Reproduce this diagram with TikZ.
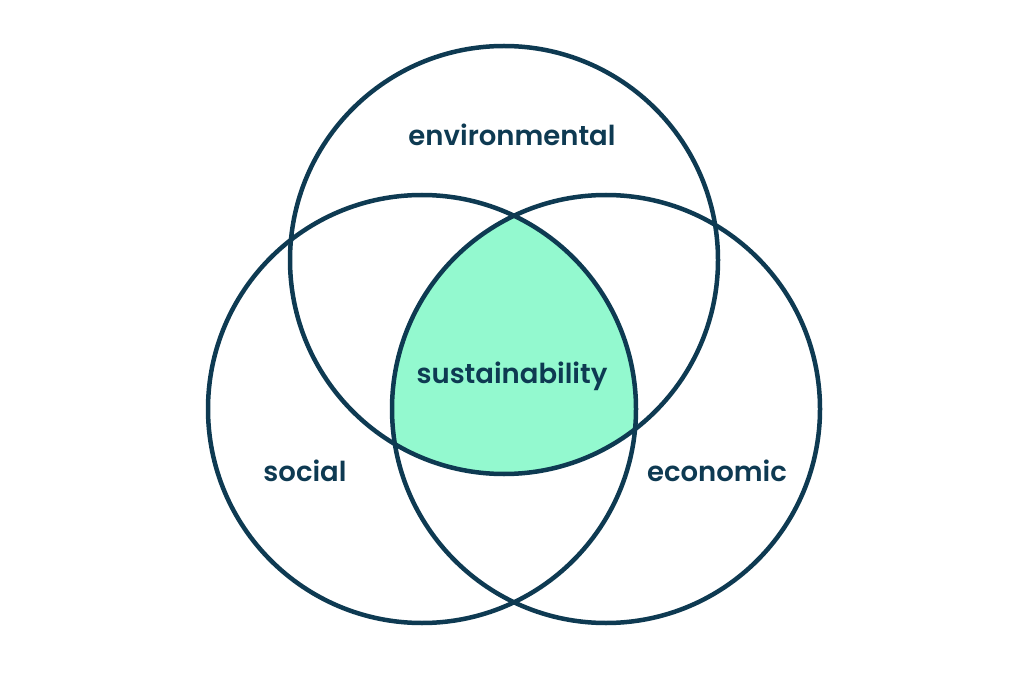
\documentclass[tikz,border=0pt]{standalone}
\usepackage{fontspec}
\setmainfont{Poppins}
\newfontfamily\semibold{Poppins SemiBold}
\usetikzlibrary{positioning}

\definecolor{navy}{HTML}{0E3A52}
\definecolor{mint}{HTML}{93F9CF}

\begin{document}
\begin{tikzpicture}[
    x = 1pt, y = -1pt, % pixel like units
    ring/.style = {draw = navy, line width = 4.5pt},
    lbl/.style = {text = navy, font = \semibold\fontsize{27.5}{30}\selectfont}
    ]

    \useasboundingbox (0,0) rectangle (1024,684);

    % centre region
    \begin{scope}
      \clip (504,260) circle (214);
      \clip (422,409) circle (214);
      \fill[mint] (606,409) circle (214);
    \end{scope}

    \draw[ring] (504,260) circle (214);
    \draw[ring] (422,409) circle (214);
    \draw[ring] (606,409) circle (214);

    \node[lbl] (env) at (512,135) {environmental};
    \node[lbl] (sus) at (512,376) {sustainability};
    \node[lbl] (soc) at (305,471) {social};
    \node[lbl] (eco) at (717,471) {economic};
\end{tikzpicture}
\end{document}
